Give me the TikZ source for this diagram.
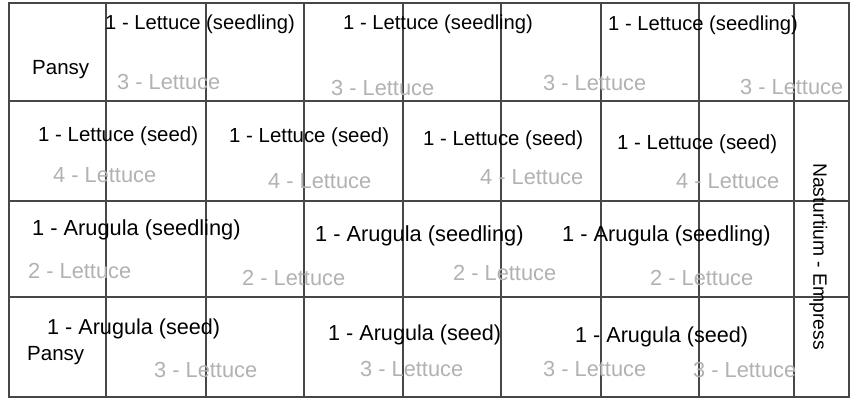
\documentclass[tikz,border=0pt]{standalone}
\usepackage{fontspec}
\setmainfont{Liberation Sans}
\begin{document}
\begin{tikzpicture}[x=1pt,y=-1pt,
  grid/.style={draw=black!72, line width=1.3pt},
  lbl/.style={inner sep=0pt, anchor=west, text height=0.716em, text depth=0pt, yshift=-3.5pt},
  lseedling/.style={lbl, font=\fontsize{20.2}{24}\selectfont},
  lseed/.style={lbl, font=\fontsize{20.4}{24}\selectfont},
  aseedling/.style={lbl, font=\fontsize{21.8}{26}\selectfont},
  aseed/.style={lbl, font=\fontsize{21.6}{26}\selectfont},
  under/.style={lbl, text=black!30, font=\fontsize{21.8}{26}\selectfont},
  pansy/.style={lbl, font=\fontsize{20.5}{24}\selectfont},
  border/.style={inner sep=0pt, font=\fontsize{19.3}{23}\selectfont, text height=0.716em, text depth=0pt}
]
\useasboundingbox (0,0) rectangle (857,402);
\fill[white] (0,0) rectangle (857,402);

% grid
\foreach \gx in {106,206,304,403,501,601,699,794}
  \draw[grid] (\gx,3) -- (\gx,397);
\foreach \gy in {101,201,297}
  \draw[grid] (9,\gy) -- (849,\gy);
\draw[grid] (9,3) rectangle (849,397);

% row 1
\node[pansy] (p1) at (32,67) {Pansy};
\node[under] (b1) at (117,82) {3 - Lettuce};
\node[under] (b2) at (331,88) {3 - Lettuce};
\node[under] (b3) at (543,83) {3 - Lettuce};
\node[under] (b4) at (740,87) {3 - Lettuce};
\node[lseedling] (a1) at (105,22) {1 - Lettuce (seedling)};
\node[lseedling] (a2) at (343,22) {1 - Lettuce (seedling)};
\node[lseedling] (a3) at (608,23) {1 - Lettuce (seedling)};

% row 2
\node[under] (d1) at (53,175) {4 - Lettuce};
\node[under] (d2) at (268,181) {4 - Lettuce};
\node[under] (d3) at (480,177) {4 - Lettuce};
\node[under] (d4) at (676,181) {4 - Lettuce};
\node[lseed] (c1) at (38,134) {1 - Lettuce (seed)};
\node[lseed] (c2) at (229,135) {1 - Lettuce (seed)};
\node[lseed] (c3) at (423,138) {1 - Lettuce (seed)};
\node[lseed] (c4) at (617,142) {1 - Lettuce (seed)};

% row 3
\node[under] (f1) at (28,271) {2 - Lettuce};
\node[under] (f2) at (242,278) {2 - Lettuce};
\node[under] (f3) at (453,273) {2 - Lettuce};
\node[under] (f4) at (650,278) {2 - Lettuce};
\node[aseedling] (e1) at (32,228) {1 - Arugula (seedling)};
\node[aseedling] (e2) at (315,234) {1 - Arugula (seedling)};
\node[aseedling] (e3) at (562,234) {1 - Arugula (seedling)};

% row 4
\node[pansy] (p2) at (27,353) {Pansy};
\node[under] (h1) at (154,370) {3 - Lettuce};
\node[under] (h2) at (360,369) {3 - Lettuce};
\node[under] (h3) at (543,369) {3 - Lettuce};
\node[under] (h4) at (693,370) {3 - Lettuce};
\node[aseed] (g1) at (47,327) {1 - Arugula (seed)};
\node[aseed] (g2) at (328,333) {1 - Arugula (seed)};
\node[aseed] (g3) at (575,335) {1 - Arugula (seed)};

% border plant
\node[border, rotate=-90] (n1) at (817,256.5) {Nasturtium - Empress};
\end{tikzpicture}
\end{document}
